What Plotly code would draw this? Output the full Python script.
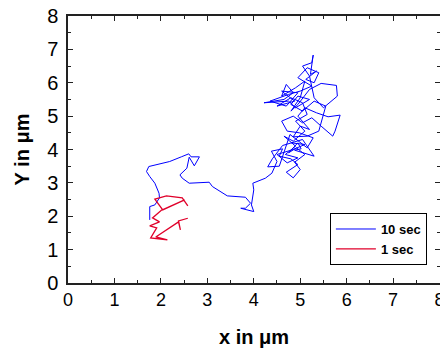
import plotly.graph_objects as go

# 10 sec trajectory (x, y in micrometres)
x10 = [1.76, 1.76, 1.87, 1.97, 1.96, 1.87, 1.76, 1.69, 1.74, 2.19, 2.44, 2.60, 2.65, 2.83, 2.72,
       2.61, 2.56, 2.41, 2.46, 2.61, 3.04, 3.11, 3.43, 3.82, 3.93, 3.82, 3.72, 3.86, 4.00, 3.95,
       4.00, 3.98, 4.25, 4.39, 4.50,
       4.38, 4.62, 4.55, 4.80, 4.95, 4.70, 4.85, 5.00, 4.88, 5.10, 4.92, 4.75, 4.95, 5.02, 4.88,
       5.30, 5.05, 4.62, 4.40, 4.30, 4.55, 4.78, 5.15, 5.28, 4.98,
       4.72, 4.60, 4.85, 5.05, 5.25, 5.45, 5.70, 5.75, 5.86, 5.60, 5.35, 5.10, 4.95, 5.20, 5.00,
       4.85, 5.15, 5.40, 5.55, 5.30, 5.05, 4.80, 4.95, 5.20, 4.90,
       4.75, 4.45, 4.22, 4.65, 4.85, 4.70, 4.60, 4.90, 5.10, 5.00, 4.80, 4.95, 5.20, 5.45, 5.78,
       5.80, 5.50, 5.30, 5.20, 5.05, 5.25, 5.28, 5.22, 5.35, 5.12, 5.30, 5.40, 5.15, 4.95, 5.25,
       5.00, 4.75, 4.55,
       4.35, 4.70, 4.95, 4.60, 4.88, 4.50, 4.80, 5.05, 5.15, 4.90, 5.10, 4.85, 4.65, 4.90, 4.68,
       4.95, 4.72, 4.50, 4.85, 5.10, 4.80]
y10 = [1.89, 2.29, 2.34, 2.55, 2.69, 2.99, 3.19, 3.34, 3.49, 3.64, 3.78, 3.87, 3.78, 3.78, 3.51,
       3.77, 3.44, 3.24, 3.14, 2.99, 3.02, 2.89, 2.61, 2.57, 2.39, 2.24, 2.24, 2.19, 2.14, 2.34,
       2.79, 2.99, 3.14, 3.29, 3.64,
       3.95, 4.02, 3.80, 3.72, 3.55, 3.32, 3.15, 3.40, 3.62, 3.85, 4.05, 3.90, 4.20, 4.02, 3.98,
       3.80, 4.30, 4.12, 3.72, 3.48, 3.50, 4.45, 4.05, 4.35, 4.50,
       4.55, 4.85, 5.00, 4.80, 4.95, 4.70, 4.40, 4.55, 5.03, 4.98, 5.10, 5.25, 5.00, 4.60, 4.70,
       4.38, 4.40, 4.55, 5.30, 5.45, 5.15, 5.35, 5.60, 5.50, 5.25,
       5.45, 5.42, 5.40, 5.50, 5.70, 5.95, 5.60, 5.85, 6.05, 5.55, 5.15, 5.35, 5.80, 5.98, 5.92,
       5.60, 5.25, 5.55, 6.20, 6.50, 6.60, 6.83, 6.25, 6.35, 6.10, 6.00, 6.30, 6.45, 6.15, 5.90,
       5.75, 5.65, 5.55,
       5.45, 5.30, 5.70, 5.75, 5.45, 5.30, 5.55, 5.40, 5.05, 4.85, 4.55, 4.25, 4.40, 4.10, 3.85,
       3.75, 3.60, 3.85, 4.00, 4.15, 4.20]

# 1 sec trajectory
x1 = [2.58, 2.46, 2.12, 1.87, 2.04, 2.51, 2.01, 1.82, 1.97, 1.76, 1.91, 1.78, 2.14, 1.89,
      2.38, 2.42, 2.38, 2.58]
y1 = [2.31, 2.55, 2.61, 2.51, 2.19, 2.49, 2.18, 1.95, 1.83, 1.71, 1.65, 1.35, 1.29, 1.38,
      1.83, 1.59, 1.86, 1.94]

x_ticks = [0, 1, 2, 3, 4, 5, 6, 7, 8]
y_ticks = [0, 1, 2, 3, 4, 5, 6, 7, 8]

FONT = "Arial, Liberation Sans, sans-serif"
AXCOL = "#222222"

fig = go.Figure()
fig.add_trace(go.Scatter(x=x10, y=y10, mode="lines", name="<b>10 sec</b>",
                         line=dict(color="#0000ff", width=1)))
fig.add_trace(go.Scatter(x=x1, y=y1, mode="lines", name="<b>1 sec</b>",
                         line=dict(color="#e0002a", width=1.3)))

common = dict(showline=True, linecolor=AXCOL, linewidth=1.5, mirror="allticks",
              ticks="inside", ticklen=5, tickwidth=1, tickcolor=AXCOL,
              showgrid=False, zeroline=False, ticklabeloverflow="allow", automargin=False,
              minor=dict(ticks="inside", ticklen=3, tickwidth=1, tickcolor=AXCOL, dtick=0.5,
                         showgrid=False))

fig.update_xaxes(range=[0, 8.01], tickvals=x_ticks, ticktext=[str(v) for v in x_ticks],
                 tickfont=dict(family=FONT, size=18, color="black"),
                 title=dict(text="<b>x in μm</b>", font=dict(family=FONT, size=20, color="black"),
                            standoff=24),
                 **common)
fig.update_yaxes(range=[0, 8], tickvals=y_ticks, ticktext=[str(v) for v in y_ticks],
                 tickfont=dict(family=FONT, size=20, color="black"),
                 ticklabelstandoff=4,
                 title=dict(text="<b>Y in μm</b>", font=dict(family=FONT, size=20, color="black"),
                            standoff=12),
                 **common)

fig.update_layout(
    width=440, height=348,
    margin=dict(l=68, r=0, t=16, b=65),
    paper_bgcolor="white", plot_bgcolor="white",
    showlegend=True,
    legend=dict(x=0.704, y=0.262, xanchor="left", yanchor="top",
                bordercolor="black", borderwidth=1, bgcolor="white",
                font=dict(family=FONT, size=13, color="black"),
                tracegroupgap=0, itemwidth=40),
)

fig.write_html("out.html")
